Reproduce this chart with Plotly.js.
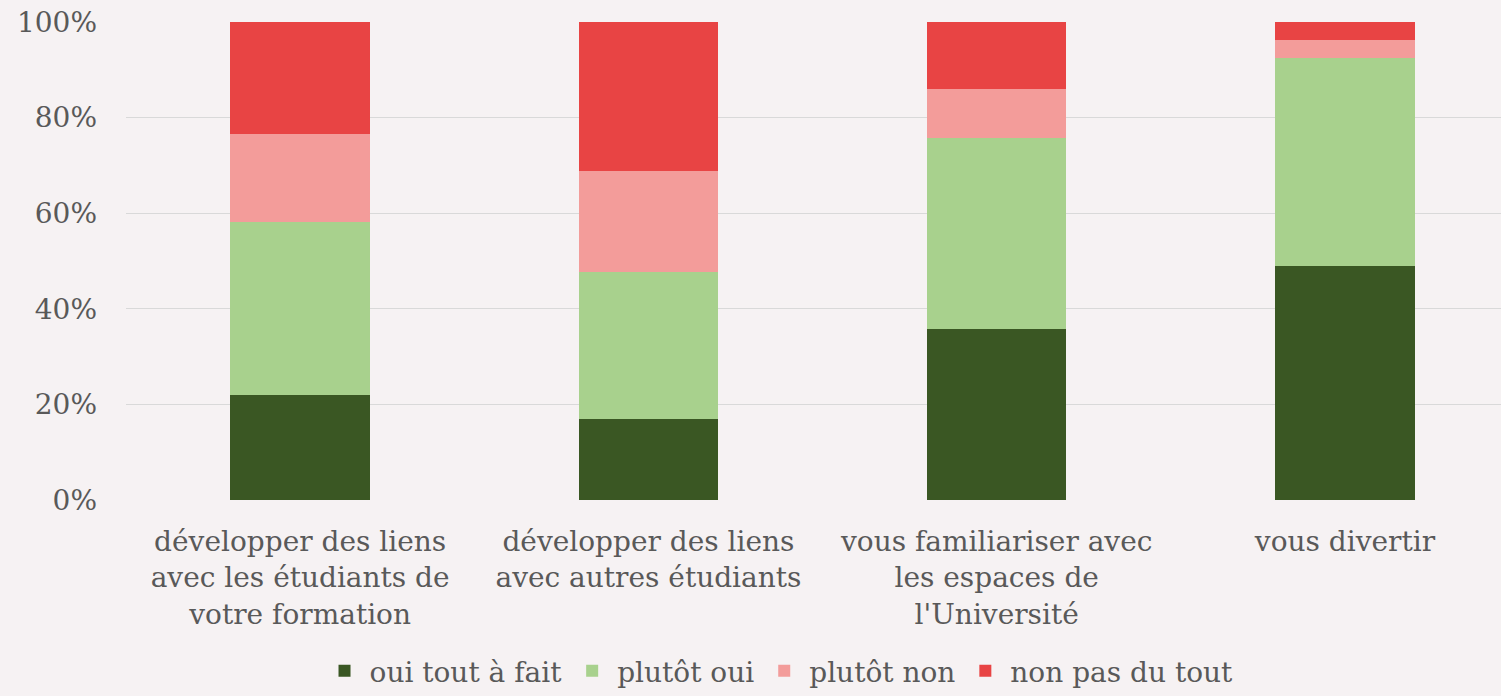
<!DOCTYPE html>
<html>
<head>
<meta charset="utf-8">
<script src="https://cdn.plot.ly/plotly-3.0.1.min.js"></script>
<style>html,body{margin:0;padding:0;background:#f6f2f3;}#chart{width:1501px;height:696px;}</style>
</head>
<body>
<div id="chart"></div>
<script>
const categories = [
  "développer des liens<br>avec les étudiants de<br>votre formation",
  "développer des liens<br>avec autres étudiants",
  "vous familiariser avec<br>les espaces de<br>l'Université",
  "vous divertir"
];
const seriesNames = ["oui tout à fait", "plutôt oui", "plutôt non", "non pas du tout"];
const ouiToutAFait = [21.9, 17.0, 35.7, 48.9];
const plutotOui   = [36.2, 30.8, 40.0, 43.6];
const plutotNon   = [18.4, 21.0, 10.2, 3.8];
const nonPasDuTout = [23.5, 31.2, 14.1, 3.7];
const colors = ["#3a5723", "#a8d18d", "#f39c9a", "#e84444"];
const yTicks = [0, 20, 40, 60, 80, 100];
const yTickText = ["0%", "20%", "40%", "60%", "80%", "100%"];

const allSeries = [ouiToutAFait, plutotOui, plutotNon, nonPasDuTout];
const xIdx = categories.map((c, i) => i);
const traces = allSeries.map((vals, k) => ({
  type: "bar",
  name: seriesNames[k],
  x: xIdx,
  y: vals,
  marker: {color: colors[k], line: {width: 0}},
  hoverinfo: "y+name"
}));

const font = "'DejaVu Serif', serif";
const layout = {
  width: 1501, height: 696,
  paper_bgcolor: "#f6f2f3", plot_bgcolor: "#f6f2f3",
  barmode: "stack",
  bargap: 0.6,
  margin: {l: 126, r: 0, t: 21.7, b: 195.7},
  font: {family: font, color: "#595959", size: 28},
  xaxis: {
    range: [-0.5, 3.448],
    tickmode: "array", tickvals: xIdx, ticktext: categories,
    showgrid: false, zeroline: false, showline: false, ticks: "",
    tickfont: {family: font, size: 28, color: "#595959"},
    ticklabelstandoff: 22
  },
  yaxis: {
    range: [0, 100],
    tickmode: "array", tickvals: yTicks, ticktext: yTickText,
    showgrid: true, gridcolor: "#d9d9d9", gridwidth: 1.3,
    zeroline: false, showline: false, ticks: "",
    tickfont: {family: font, size: 28, color: "#595959"},
    ticklabelstandoff: 28
  },
  showlegend: true,
  legend: {
    orientation: "h",
    xref: "container", yref: "container",
    x: 0.519, xanchor: "center",
    y: 0.0, yanchor: "bottom",
    font: {family: font, size: 28, color: "#595959"},
    bgcolor: "rgba(0,0,0,0)",
    traceorder: "normal",
    itemwidth: 40
  }
};

Plotly.newPlot("chart", traces, layout, {displayModeBar: false, staticPlot: true});
</script>
</body>
</html>
